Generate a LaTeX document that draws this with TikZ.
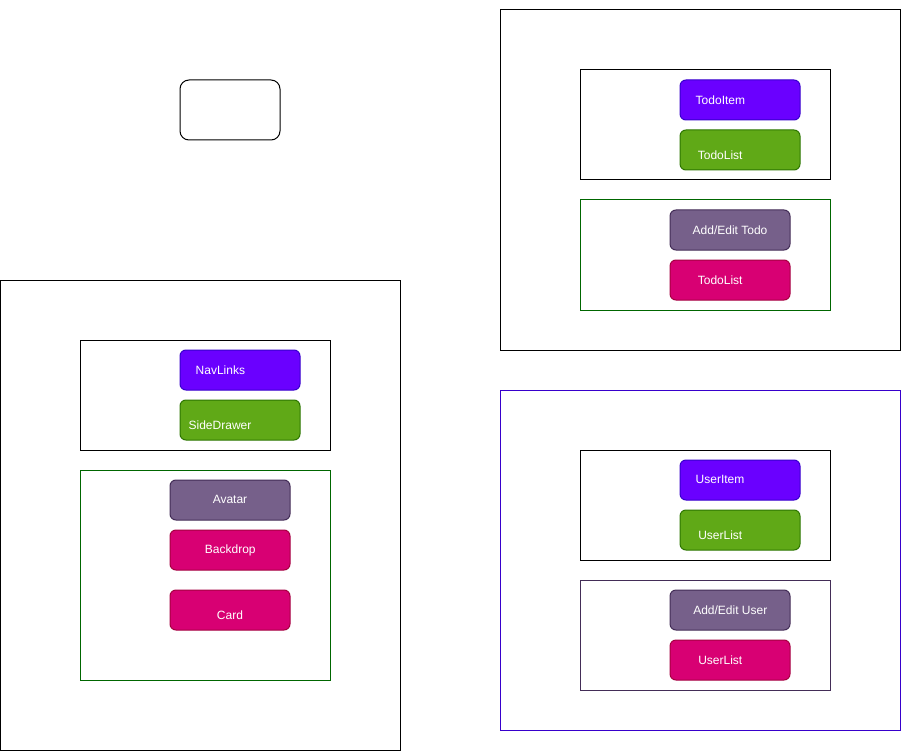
\documentclass[tikz,border=0pt]{standalone}
\usepackage{fontspec}
\setmainfont{Liberation Sans}
\usetikzlibrary{positioning}

\definecolor{linkfill}{HTML}{6A00FF}
\definecolor{linkline}{HTML}{3700CC}
\definecolor{listfill}{HTML}{60A917}
\definecolor{listline}{HTML}{2D7600}
\definecolor{editfill}{HTML}{76608A}
\definecolor{editline}{HTML}{432D57}
\definecolor{pinkfill}{HTML}{D80073}
\definecolor{pinkline}{HTML}{A50040}
\definecolor{groupgreen}{HTML}{006600}

\tikzset{
  frame/.style={draw=black, line width=1pt},
  card/.style={line width=1pt, rounded corners=6pt, minimum width=120pt, minimum height=40pt, inner sep=0pt},
  caption/.style={text=white, font=\fontsize{12}{14}\selectfont, inner sep=0pt}
}

\begin{document}
\begin{tikzpicture}[x=1pt, y=-1pt]
  \useasboundingbox (0,0) rectangle (901,751);

  % lone box, top left
  \draw[frame, rounded corners=9pt] (180,80) rectangle (280,140);

  % left page
  \draw[frame] (0.5,280) rectangle (400,750);
  \draw[frame] (80,340) rectangle (330,450);
  \draw[frame, draw=groupgreen] (80,470) rectangle (330,680);

  \node[card, fill=linkfill, draw=linkline] (navlinks)   at (240,370) {};
  \node[card, fill=listfill, draw=listline] (sidedrawer) at (240,420) {};
  \node[card, fill=editfill, draw=editline] (avatar)     at (230,500) {};
  \node[card, fill=pinkfill, draw=pinkline] (backdrop)   at (230,550) {};
  \node[card, fill=pinkfill, draw=pinkline] (cardbox)    at (230,610) {};

  \node[caption] (navlinkstext)   at (220.4,370) {NavLinks};
  \node[caption] (sidedrawertext) at (220,425)   {SideDrawer};
  \node[caption] (avatartext)     at (230,499.5) {Avatar};
  \node[caption] (backdroptext)   at (230.3,550) {Backdrop};
  \node[caption] (cardtext)       at (230,615)   {Card};

  % right page, todos
  \draw[frame] (500,10) rectangle (900,350);
  \draw[frame] (580,70) rectangle (830,180);
  \draw[frame, draw=groupgreen] (580,200) rectangle (830,310);

  \node[card, fill=linkfill, draw=linkline] (todoitem) at (740,100) {};
  \node[card, fill=listfill, draw=listline] (todolist) at (740,150) {};
  \node[card, fill=editfill, draw=editline] (todoedit) at (730,230) {};
  \node[card, fill=pinkfill, draw=pinkline] (todopink) at (730,280) {};

  \node[caption] (todoitemtext) at (720.4,100) {TodoItem};
  \node[caption] (todolisttext) at (720.2,155) {TodoList};
  \node[caption] (todoedittext) at (730,230)   {Add/Edit Todo};
  \node[caption] (todopinktext) at (720.2,280) {TodoList};

  % right page, users
  \draw[frame, draw=linkline] (500,390) rectangle (900,730);
  \draw[frame] (580,450) rectangle (830,560);
  \draw[frame, draw=editline] (580,580) rectangle (830,690);

  \node[card, fill=linkfill, draw=linkline] (useritem) at (740,480) {};
  \node[card, fill=listfill, draw=listline] (userlist) at (740,530) {};
  \node[card, fill=editfill, draw=editline] (useredit) at (730,610) {};
  \node[card, fill=pinkfill, draw=pinkline] (userpink) at (730,660) {};

  \node[caption] (useritemtext) at (720,479.5) {UserItem};
  \node[caption] (userlisttext) at (720.3,535) {UserList};
  \node[caption] (useredittext) at (730.3,610) {Add/Edit User};
  \node[caption] (userpinktext) at (720.3,660) {UserList};
\end{tikzpicture}
\end{document}
